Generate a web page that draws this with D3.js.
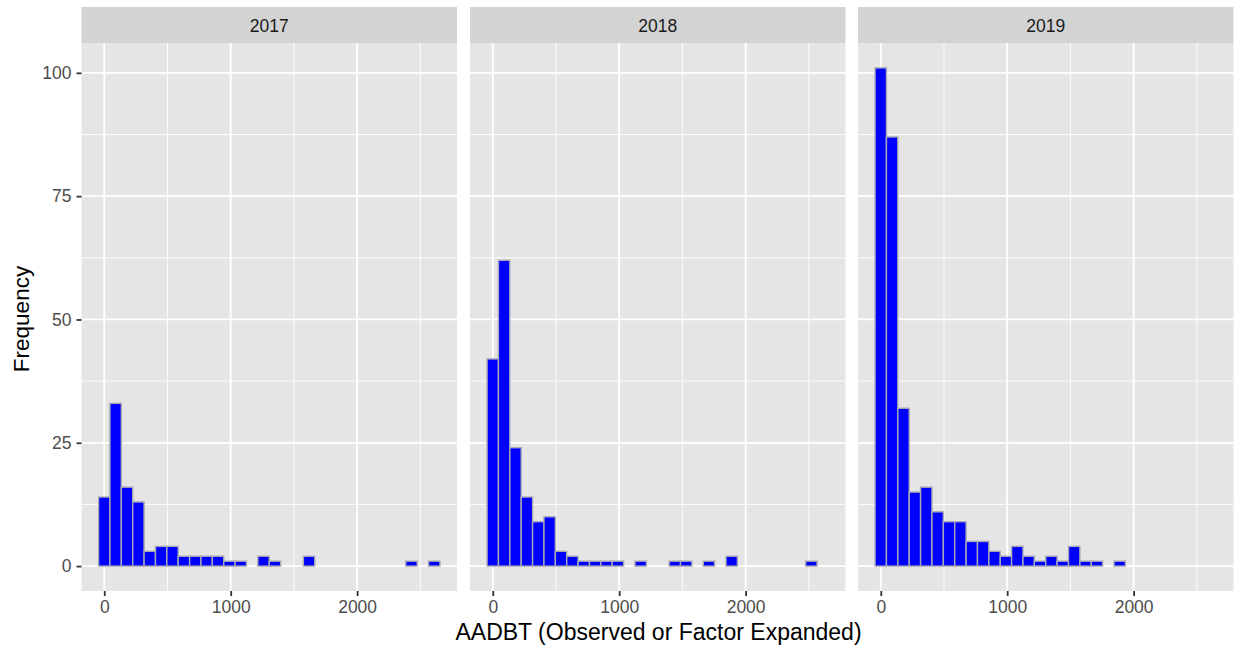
<!DOCTYPE html>
<html>
<head>
<meta charset="utf-8">
<script src="https://cdn.jsdelivr.net/npm/d3@7"></script>
<style>
  html, body { margin: 0; padding: 0; background: #ffffff; }
  svg { display: block; }
  text { font-family: "Liberation Sans", Arial, Helvetica, sans-serif; }
</style>
</head>
<body>
<svg id="chart" width="1238" height="646"></svg>
<script>
// ---- data ----
const years = ["2017", "2018", "2019"];
const binWidth = 90;
const binStarts = [-45, 45, 135, 225, 315, 405, 495, 585, 675, 765,
                   855, 945, 1035, 1125, 1215, 1305, 1395, 1485, 1575, 1665,
                   1755, 1845, 1935, 2025, 2115, 2205, 2295, 2385, 2475, 2565];
const counts2017 = [14, 33, 16, 13, 3, 4, 4, 2, 2, 2, 2, 1, 1, 0, 2, 1, 0, 0, 2, 0, 0, 0, 0, 0, 0, 0, 0, 1, 0, 1];
const counts2018 = [42, 62, 24, 14, 9, 10, 3, 2, 1, 1, 1, 1, 0, 1, 0, 0, 1, 1, 0, 1, 0, 2, 0, 0, 0, 0, 0, 0, 1, 0];
const counts2019 = [101, 87, 32, 15, 16, 11, 9, 9, 5, 5, 3, 2, 4, 2, 1, 2, 1, 4, 1, 1, 0, 1, 0, 0, 0, 0, 0, 0, 0, 0];
const seriesCounts = [counts2017, counts2018, counts2019];
const yTicks = [0, 25, 50, 75, 100];
const yMinor = [12.5, 37.5, 62.5, 87.5];
const xTicks = [0, 1000, 2000];
const xMinor = [500, 1500, 2500];
const xTitle = "AADBT (Observed or Factor Expanded)";
const yTitle = "Frequency";

// ---- layout ----
const svg = d3.select("#chart");
const panelLefts = [81.5, 470, 858];
const panelW = 375.5;
const stripTop = 7, stripBottom = 43;
const panelTop = 43, panelBottom = 591;

// scales (ggplot-like 5% expansion)
const xMinData = d3.min(binStarts), xMaxData = d3.max(binStarts) + binWidth;
const xPad = (xMaxData - xMinData) * 0.05;
const yMaxData = d3.max(seriesCounts.flat());
const yPad = yMaxData * 0.05;
const y = d3.scaleLinear().domain([-yPad, yMaxData + yPad]).range([panelBottom, panelTop]);

const tickColor = "#333333";
const tickLabelColor = "#4d4d4d";

years.forEach((yr, i) => {
  const x0 = panelLefts[i];
  const x = d3.scaleLinear().domain([xMinData - xPad, xMaxData + xPad]).range([x0, x0 + panelW]);
  const g = svg.append("g");

  // strip
  g.append("rect").attr("x", x0).attr("y", stripTop).attr("width", panelW).attr("height", stripBottom - stripTop)
    .attr("fill", "#d3d3d3");
  g.append("text").attr("x", x0 + panelW / 2).attr("y", (stripTop + stripBottom) / 2 + 0.5).attr("dy", "0.36em")
    .attr("text-anchor", "middle").attr("font-size", 17.5).attr("fill", "#1a1a1a").text(yr);

  // panel background
  g.append("rect").attr("x", x0).attr("y", panelTop).attr("width", panelW).attr("height", panelBottom - panelTop)
    .attr("fill", "#e5e5e5");

  // minor grid
  g.selectAll(".ymin").data(yMinor).join("line")
    .attr("x1", x0).attr("x2", x0 + panelW).attr("y1", d => y(d)).attr("y2", d => y(d))
    .attr("stroke", "#ffffff").attr("stroke-width", 0.9);
  g.selectAll(".xmin").data(xMinor).join("line")
    .attr("y1", panelTop).attr("y2", panelBottom).attr("x1", d => x(d)).attr("x2", d => x(d))
    .attr("stroke", "#ffffff").attr("stroke-width", 0.9);
  // major grid
  g.selectAll(".ymaj").data(yTicks).join("line")
    .attr("x1", x0).attr("x2", x0 + panelW).attr("y1", d => y(d)).attr("y2", d => y(d))
    .attr("stroke", "#ffffff").attr("stroke-width", 1.8);
  g.selectAll(".xmaj").data(xTicks).join("line")
    .attr("y1", panelTop).attr("y2", panelBottom).attr("x1", d => x(d)).attr("x2", d => x(d))
    .attr("stroke", "#ffffff").attr("stroke-width", 1.8);

  // bars
  const bins = binStarts.map((b, k) => ({ x0: b, x1: b + binWidth, n: seriesCounts[i][k] }));
  g.selectAll(".bar").data(bins).join("rect")
    .attr("x", d => x(d.x0)).attr("width", d => x(d.x1) - x(d.x0))
    .attr("y", d => y(d.n)).attr("height", d => y(0) - y(d.n))
    .attr("fill", "#0000ff").attr("stroke", "#a9a9b4").attr("stroke-width", 1.4);

  // x axis
  const xAxis = d3.axisBottom(x).tickValues(xTicks).tickSize(5).tickPadding(5).tickFormat(d3.format("d"));
  const ax = g.append("g").attr("transform", `translate(0,${panelBottom})`).call(xAxis);
  ax.select(".domain").remove();
  ax.selectAll(".tick line").attr("stroke", tickColor).attr("stroke-width", 1.8);
  ax.selectAll(".tick text").attr("font-size", 17.5).attr("fill", tickLabelColor)
    .attr("font-family", "'Liberation Sans', Arial, sans-serif");

  if (i === 0) {
    const yAxis = d3.axisLeft(y).tickValues(yTicks).tickSize(5).tickPadding(5);
    const ay = g.append("g").attr("transform", `translate(${x0},0)`).call(yAxis);
    ay.select(".domain").remove();
    ay.selectAll(".tick line").attr("stroke", tickColor).attr("stroke-width", 1.8);
    ay.selectAll(".tick text").attr("font-size", 17.5).attr("fill", tickLabelColor)
      .attr("font-family", "'Liberation Sans', Arial, sans-serif");
  }
});

// axis titles
svg.append("text").attr("x", 658.5).attr("y", 639.5)
  .attr("text-anchor", "middle").attr("font-size", 23).attr("fill", "#000000").text(xTitle);
svg.append("text").attr("transform", `translate(28.5,${(panelTop + panelBottom) / 2 + 2}) rotate(-90)`)
  .attr("text-anchor", "middle").attr("font-size", 22.5).attr("fill", "#000000").text(yTitle);
</script>
</body>
</html>
